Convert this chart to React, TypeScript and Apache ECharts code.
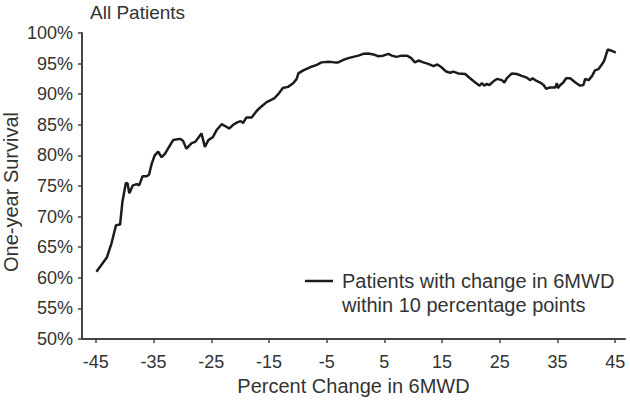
import React, { useEffect, useRef } from "react";
import * as echarts from "echarts";

const xValues = [
  -44.9, -43.1, -42.3, -41.5, -40.8, -40.4, -39.8, -39.5, -39.2, -38.6, -37.9, -37.5, -36.9, -36.2, -35.8, -35.3,
  -34.8, -34.2, -33.6, -33.0, -32.5, -31.6, -30.4, -29.9, -29.3, -28.4, -27.8, -27.3, -26.7, -26.1, -25.5, -24.7,
  -24.1, -23.2, -22.6, -21.9, -21.2, -20.5, -19.9, -19.5, -18.9, -18.0, -17.1, -16.3, -15.4, -14.1, -13.4, -12.6,
  -11.7, -10.8, -10.2, -9.9, -9.05, -7.9, -6.7, -5.9, -4.7, -3.6, -3.0, -2.1, -1.25, -0.4, 0.5, 1.35, 2.2, 3.1,
  3.95, 4.8, 5.7, 6.3, 7.1, 8.0, 8.9, 9.6, 10.3, 10.9, 11.75, 12.6, 13.5, 14.2, 14.9, 15.7, 16.4, 16.95, 17.8,
  19.0, 19.85, 20.7, 21.5, 21.9, 22.3, 22.75, 23.2, 23.9, 24.5, 25.35, 25.8, 26.2, 27.1, 27.95, 28.8, 29.7, 30.25,
  30.7, 31.3, 32.0, 32.6, 33.0, 33.7, 34.6, 34.9, 35.06, 35.5, 36.0, 36.5, 37.2, 38.1, 38.9, 39.5, 39.8, 40.4,
  41.0, 41.5, 42.1, 42.4, 42.8, 43.1, 43.7, 44.25, 45.1,
];

const survival = [
  61.0, 63.3, 65.6, 68.6, 68.7, 72.4, 75.5, 75.4, 73.8, 75.1, 75.3, 75.1, 76.6, 76.6, 76.8, 78.7,
  80.0, 80.6, 79.7, 80.3, 81.1, 82.5, 82.7, 82.4, 81.1, 82.0, 82.2, 82.8, 83.6, 81.4, 82.5, 83.0,
  84.1, 85.1, 84.8, 84.4, 85.0, 85.4, 85.6, 85.3, 86.2, 86.2, 87.3, 88.0, 88.7, 89.3, 90.0, 91.0,
  91.2, 91.8, 92.5, 93.4, 93.9, 94.4, 94.8, 95.2, 95.3, 95.2, 95.2, 95.6, 95.9, 96.1, 96.3, 96.6, 96.65, 96.5,
  96.2, 96.3, 96.6, 96.3, 96.1, 96.3, 96.3, 95.95, 95.2, 95.5, 95.2, 94.95, 94.6, 94.85, 94.4, 93.7, 93.5, 93.7, 93.4,
  93.3, 92.6, 91.97, 91.4, 91.8, 91.4, 91.7, 91.5, 92.1, 92.5, 92.3, 91.9, 92.6, 93.4, 93.3, 93.0, 92.7, 92.3,
  92.6, 92.2, 91.9, 91.5, 90.9, 91.1, 91.1, 91.8, 91.0, 91.5, 91.9, 92.6, 92.6, 91.9, 91.4, 91.5, 92.5, 92.3,
  93.0, 93.9, 94.1, 94.5, 95.0, 95.5, 97.3, 97.15, 96.8,
];

const xTickValues = [-45, -35, -25, -15, -5, 5, 15, 25, 35, 45];

const titleText = "All Patients";
const seriesName = "Patients with change in 6MWD";
const legendLine1 = "Patients with change in 6MWD";
const legendLine2 = "within 10 percentage points";
const xAxisName = "Percent Change in 6MWD";
const yAxisName = "One-year Survival";

const FONT = "'Liberation Sans', Arial, Helvetica, sans-serif";
const TEXT = "#333333";
const AXIS = "#444444";
const LINE = "#1c1c1c";

export default function App() {
  const ref = useRef<HTMLDivElement>(null);

  useEffect(() => {
    if (!ref.current) return;
    const chart = echarts.init(ref.current, undefined, { renderer: "svg" });
    const data = xValues.map((x, i) => [x, survival[i]]);
    chart.setOption({
      animation: false,
      backgroundColor: "#ffffff",
      textStyle: { fontFamily: FONT },
      title: {
        text: titleText,
        left: 90,
        top: 3,
        padding: 0,
        textStyle: { fontFamily: FONT, fontSize: 19, fontWeight: "normal", color: TEXT, lineHeight: 19 },
      },
      legend: {
        left: 300,
        top: 240,
        padding: 5,
        icon: "rect",
        itemWidth: 28,
        itemHeight: 2.5,
        itemGap: 0,
        data: [seriesName],
        formatter: () => " \n" + legendLine1 + "\n" + legendLine2,
        textStyle: {
          fontFamily: FONT,
          fontSize: 20,
          color: TEXT,
          lineHeight: 24,
          padding: [0, 0, 0, 4],
        },
      },
      grid: { left: 82, right: 5, top: 33, bottom: 61, containLabel: false, outerBoundsMode: "none" },
      xAxis: {
        type: "value",
        min: -47.4,
        max: 46.7,
        name: xAxisName,
        nameLocation: "middle",
        nameGap: 37,
        nameMoveOverlap: false,
        nameTextStyle: { fontFamily: FONT, fontSize: 20, color: TEXT },
        axisLine: { show: true, onZero: false, lineStyle: { color: AXIS, width: 2 } },
        axisTick: { show: true, length: 4, lineStyle: { color: AXIS, width: 1.5 }, customValues: xTickValues },
        axisLabel: { fontFamily: FONT, fontSize: 18, color: TEXT, margin: 14, customValues: xTickValues },
        splitLine: { show: false },
      },
      yAxis: {
        type: "value",
        min: 50,
        max: 100,
        interval: 5,
        name: yAxisName,
        nameLocation: "middle",
        nameRotate: 90,
        nameGap: 61,
        nameMoveOverlap: false,
        nameTextStyle: { fontFamily: FONT, fontSize: 20, color: TEXT, padding: [0, 12, 0, 0] },
        axisLine: { show: true, onZero: false, lineStyle: { color: AXIS, width: 2 } },
        axisTick: { show: true, length: 4, lineStyle: { color: AXIS, width: 1.5 } },
        axisLabel: { fontFamily: FONT, fontSize: 18, color: TEXT, margin: 9, formatter: "{value}%" },
        splitLine: { show: false },
      },
      series: [
        {
          name: seriesName,
          type: "line",
          data,
          symbol: "none",
          showSymbol: false,
          lineStyle: { color: LINE, width: 2.5 },
          itemStyle: { color: LINE },
        },
      ],
    });
    return () => chart.dispose();
  }, []);

  return <div ref={ref} style={{ position: "absolute", left: 0, top: 0, width: 630, height: 400 }} />;
}
